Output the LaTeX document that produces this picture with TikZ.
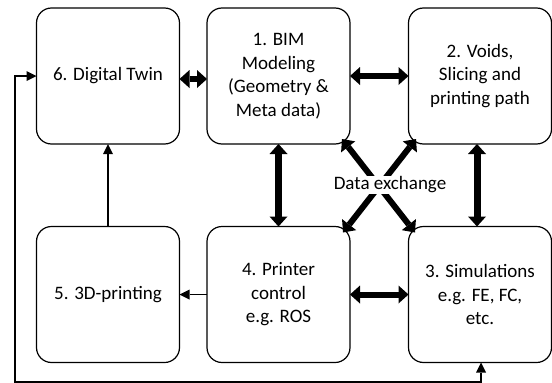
\documentclass[tikz,border=0pt]{standalone}
\usepackage{fontspec}
\setmainfont{Carlito}
\usetikzlibrary{arrows.meta, positioning}

\begin{document}
\begin{tikzpicture}[x=1pt, y=1pt,
    stage/.style={draw, rounded corners=15pt, line width=1.2pt, minimum width=143pt, minimum height=136pt, outer sep=0pt, align=center, font=\fontsize{19}{23.5}\selectfont},
    exchange/.style={line width=6pt, arrows = {Triangle[width=18pt, length=10pt, line width=0pt]-Triangle[width=18pt, length=10pt, line width=0pt]}},
    flow/.style={line width=1.2pt, arrows = {-Triangle[width=10pt, length=10pt, line width=0pt]}},
    loopback/.style={line width=1.2pt, arrows = {Triangle[width=10pt, length=10pt, line width=0pt]-Triangle[width=10pt, length=10pt, line width=0pt]}}]

    \useasboundingbox (0,0) rectangle (552,-383);

    % Nodes
    \node[stage] (twin) at (108,-76) {6. Digital Twin};
    \node[stage, right=27.5pt of twin] (bim) {1. BIM\\Modeling\\(Geometry \&\\Meta data)};
    \node[stage, right=58.5pt of bim] (voids) {2. Voids,\\Slicing and\\printing path};
    \node[stage, below=82.5pt of twin] (print) {5. 3D-printing};
    \node[stage, right=27.5pt of print] (ctrl) {4. Printer\\control\\e.g. ROS};
    \node[stage, right=58.5pt of ctrl] (sim) {3. Simulations\\e.g. FE, FC,\\etc.};
    \coordinate (loop) at (15,-382);

    % Connections
    \draw[exchange] ([yshift=-3pt]twin.east) -- ([yshift=-3pt]bim.west);
    \draw[exchange] (bim) -- (voids);
    \draw[exchange, line width=7pt] (bim) -- (ctrl);
    \draw[exchange, line width=7pt] ([xshift=-3pt]voids.south) -- ([xshift=-3pt]sim.north);
    \draw[exchange] (ctrl) -- (sim);
    \draw[exchange] ([shift={(-8pt,5pt)}]bim.south east) -- ([shift={(6.5pt,-6pt)}]sim.north west);
    \draw[exchange] ([shift={(7.5pt,5pt)}]voids.south west) -- ([shift={(-7pt,-6pt)}]ctrl.north east);
    \node[fill=white, inner sep=1pt, font=\fontsize{19}{23.5}\selectfont] (dx) at (390,-185) {Data exchange};

    \draw[flow] (print) -- (twin);
    \draw[flow] (ctrl) -- (print);
    \draw[loopback] ([xshift=1pt]sim.south) |- (loop) |- (twin.west);
\end{tikzpicture}
\end{document}
